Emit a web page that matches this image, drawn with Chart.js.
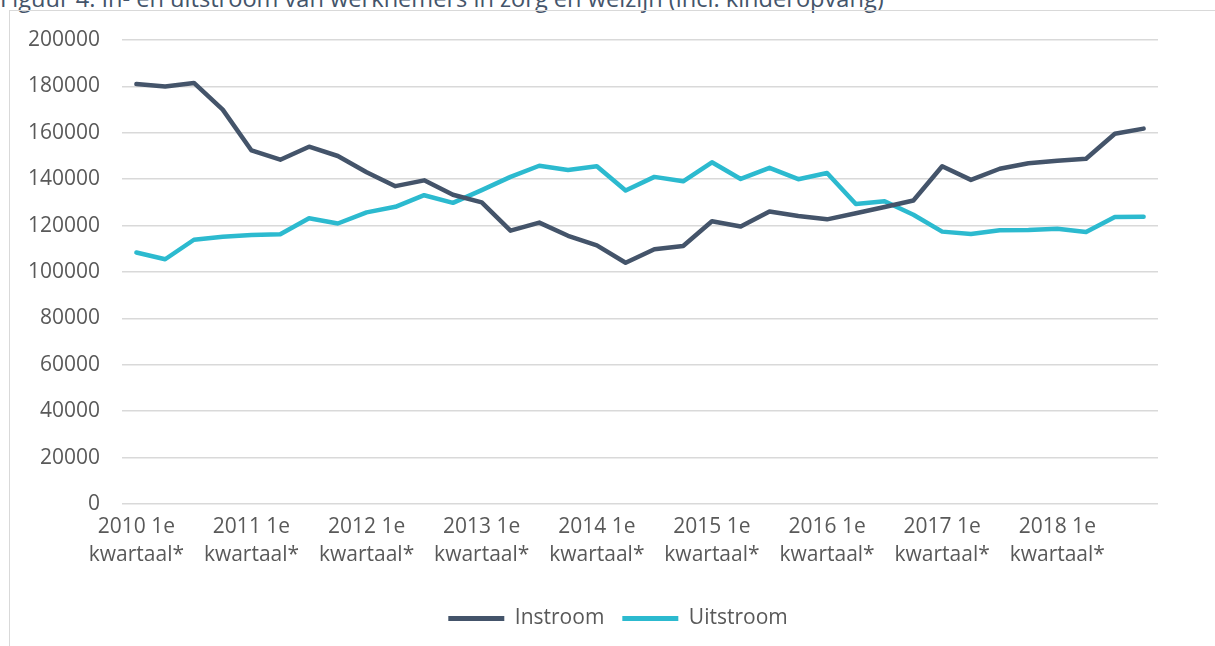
<!DOCTYPE html>
<html>
<head>
<meta charset="utf-8">
<script src="https://cdn.jsdelivr.net/npm/chart.js@4/dist/chart.umd.min.js"></script>
<style>
  html, body { margin: 0; padding: 0; background: #fff; overflow: hidden; }
  body { width: 1215px; height: 646px; position: relative; font-family: "Open Sans", sans-serif; }
  #title { position: absolute; left: 0; top: -14px; font-size: 23.6px; line-height: 24px; color: #44546A; white-space: nowrap; }
  #frame { position: absolute; left: 9px; top: 10px; width: 1230px; height: 660px; border: 1px solid #D9D9D9; box-sizing: border-box; }
  #wrap { position: absolute; left: 10px; top: 11px; width: 1205px; height: 635px; }
</style>
</head>
<body>
<div id="title">Figuur 4. In- en uitstroom van werknemers in zorg en welzijn (incl. kinderopvang)</div>
<div id="frame"></div>
<div id="wrap"><canvas id="myChart"></canvas></div>
<script>
// kwartalen 2010 - 2018
var years = ["2010", "2011", "2012", "2013", "2014", "2015", "2016", "2017", "2018"];
var quarters = ["1e", "2e", "3e", "4e"];
var categories = [];
years.forEach(function(y) {
  quarters.forEach(function(q) {
    categories.push(y + " " + q + " kwartaal*");
  });
});

var instroom = [181000, 180000, 181500, 170000, 152400, 148400, 154000, 150000, 143000, 137000, 139500, 133300,
                130000, 117800, 121300, 115600, 111500, 104000, 109800, 111200, 121900, 119600, 126100, 124100,
                122700, 125300, 128000, 130800, 145600, 139700, 144500, 146900, 148000, 148800, 159600, 161800];
var uitstroom = [108400, 105500, 113900, 115200, 115900, 116300, 123200, 120900, 125700, 128100, 133100, 129800,
                 135300, 141000, 145800, 144000, 145600, 135100, 141000, 139100, 147300, 140100, 144900, 140000,
                 142700, 129300, 130500, 124700, 117400, 116400, 118000, 118100, 118600, 117200, 123700, 123800];

var yTicks = [0, 20000, 40000, 60000, 80000, 100000, 120000, 140000, 160000, 180000, 200000];

var grey = "#595959";
var ctx = document.getElementById("myChart");

// legend in excel sits a bit right of the canvas centre
var legendShift = {
  id: 'legendShift',
  afterLayout: function(chart) {
    chart.legend.left += 34;
    chart.legend.right += 34;
  }
};

var myChart = new Chart(ctx, {
  type: 'line',
  data: {
    labels: categories,
    datasets: [{
      label: "Instroom",
      data: instroom,
      borderColor: '#44546A',
      backgroundColor: '#44546A',
      borderWidth: 4.5,
      pointRadius: 0,
      borderCapStyle: 'round',
      borderJoinStyle: 'round',
      fill: false
    }, {
      label: "Uitstroom",
      data: uitstroom,
      borderColor: '#2CBACF',
      backgroundColor: '#2CBACF',
      borderWidth: 4.5,
      pointRadius: 0,
      borderCapStyle: 'round',
      borderJoinStyle: 'round',
      fill: false
    }]
  },
  plugins: [legendShift],
  options: {
    responsive: true,
    maintainAspectRatio: false,
    animation: false,
    layout: { padding: { top: 29, right: 57, left: 0, bottom: 7 } },
    plugins: {
      tooltip: { enabled: false },
      legend: {
        position: 'bottom',
        labels: {
          boxWidth: 56,
          boxHeight: 5,
          padding: 18,
          color: grey,
          font: { family: 'Open Sans', size: 21 },
          generateLabels: function(chart) {
            var items = Chart.defaults.plugins.legend.labels.generateLabels(chart);
            items.forEach(function(it) {
              it.lineWidth = 0;
              it.fillStyle = it.strokeStyle;
            });
            return items;
          }
        }
      }
    },
    scales: {
      x: {
        offset: true,
        grid: { display: false, drawTicks: false },
        border: { display: false },
        afterFit: function(scale) { scale.height = 86; },
        ticks: {
          autoSkip: false,
          maxRotation: 0,
          minRotation: 0,
          padding: 9,
          color: grey,
          font: { family: 'Open Sans', size: 21, lineHeight: 1.33 },
          callback: function(val, idx) {
            if (idx % 4 !== 0) return '';
            var s = categories[idx].split(' ');
            return [s[0] + ' ' + s[1], s[2]];
          }
        }
      },
      y: {
        min: 0,
        max: 200000,
        afterFit: function(scale) {
          scale.width = 112;
          // tick padding otherwise pushes the plot area down
          scale.paddingTop = 0;
          scale.paddingBottom = 0;
        },
        afterBuildTicks: function(scale) {
          scale.ticks = yTicks.map(function(v) { return { value: v }; });
        },
        grid: { color: '#D9D9D9', lineWidth: 1.5, drawTicks: false },
        border: { display: false },
        ticks: {
          padding: 22,
          color: grey,
          font: { family: 'Open Sans', size: 21 },
          callback: function(v) { return String(v); }
        }
      }
    }
  }
});
</script>
</body>
</html>
